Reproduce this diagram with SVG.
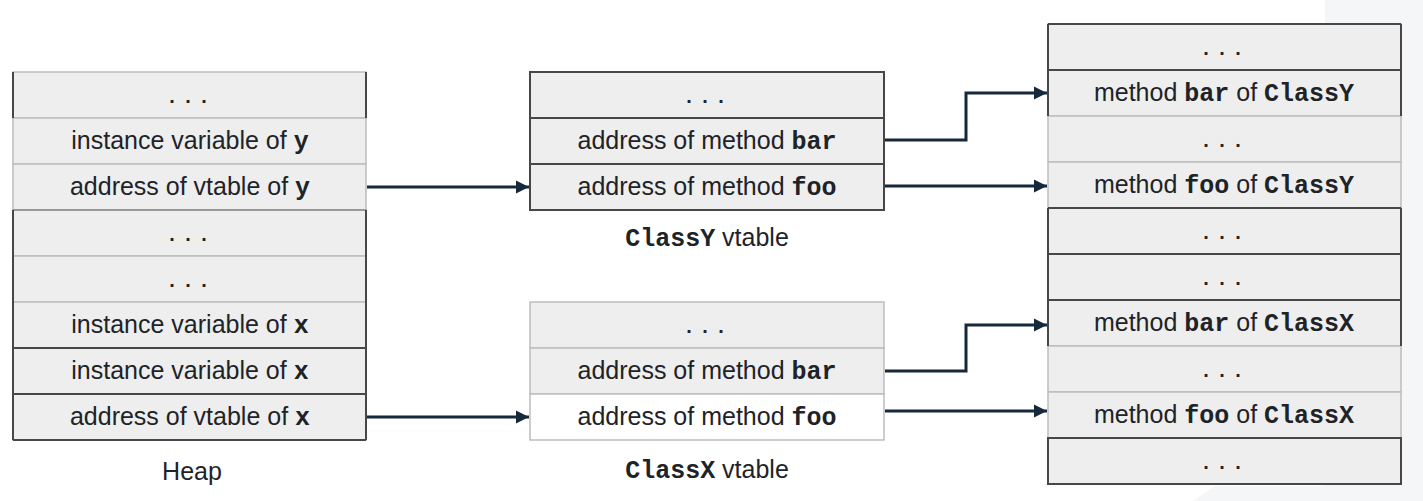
<svg xmlns="http://www.w3.org/2000/svg" width="1423" height="501" viewBox="0 0 1423 501">
<defs>
<style>
.bg{fill:#ffffff}
.panel{fill:#f4f6f7}
.cell{fill:#eeeeee;stroke:#bdbdbd;stroke-width:1.5}
.cellw{fill:#ffffff;stroke:#bdbdbd;stroke-width:1.5}
.dark{fill:none;stroke:#474747;stroke-width:2}
.mid{fill:none;stroke:#8a8a8a;stroke-width:1.5}
.t{font-family:"Liberation Sans",Arial,sans-serif;font-size:25px;fill:#1e2328;text-anchor:middle}
.m{font-family:"Liberation Mono","Courier New",monospace;font-weight:bold;font-size:25px}
.dots{font-family:"Liberation Mono","Courier New",monospace;font-weight:bold;font-size:20px;fill:#1e2328;text-anchor:middle;letter-spacing:4px}
.conn{fill:none;stroke:#16293a;stroke-width:3;marker-end:url(#arr)}
</style>
<marker id="arr" viewBox="0 0 10 10" refX="10" refY="5" markerWidth="4.5" markerHeight="4.5" orient="auto" markerUnits="strokeWidth">
<path d="M0,0 L10,5 L0,10 z" fill="#16293a"/>
</marker>
</defs>
<rect class="bg" x="0" y="0" width="1423" height="501"/>
<rect class="panel" x="1325" y="0" width="98" height="501"/>
<polygon class="panel" points="1193,501 1215,486 1325,486 1325,501"/>

<g id="heap">
<rect class="cell" x="13" y="72" width="353" height="46"/>
<rect class="cell" x="13" y="118" width="353" height="46"/>
<rect class="cell" x="13" y="164" width="353" height="46"/>
<rect class="cell" x="13" y="210" width="353" height="46"/>
<rect class="cell" x="13" y="256" width="353" height="46"/>
<rect class="cell" x="13" y="302" width="353" height="46"/>
<rect class="cell" x="13" y="348" width="353" height="46"/>
<rect class="cell" x="13" y="394" width="353" height="46"/>
<path class="mid" d="M13,210 H366"/>
<path class="dark" d="M13,72 V118 M366,72 V118 M13,210 V440 M366,210 V440 M13,348 H366 M13,394 H366 M13,440 H366"/>
<text class="dots" x="190" y="103">...</text>
<text class="t" x="190" y="149">instance variable of <tspan class="m">y</tspan></text>
<text class="t" x="190" y="195">address of vtable of <tspan class="m">y</tspan></text>
<text class="dots" x="190" y="241">...</text>
<text class="dots" x="190" y="287">...</text>
<text class="t" x="190" y="333">instance variable of <tspan class="m">x</tspan></text>
<text class="t" x="190" y="379">instance variable of <tspan class="m">x</tspan></text>
<text class="t" x="190" y="425">address of vtable of <tspan class="m">x</tspan></text>
<text class="t" x="192" y="480">Heap</text>
</g>

<g id="classY-vtable">
<rect class="cell" x="530" y="72" width="354" height="46"/>
<rect class="cell" x="530" y="118" width="354" height="46"/>
<rect class="cell" x="530" y="164" width="354" height="46"/>
<path class="dark" d="M530,72 H884 V210 H530 Z M530,118 H884 M530,164 H884"/>
<text class="dots" x="707" y="103">...</text>
<text class="t" x="707" y="149">address of method <tspan class="m">bar</tspan></text>
<text class="t" x="707" y="195">address of method <tspan class="m">foo</tspan></text>
<text class="t" x="707" y="246"><tspan class="m">ClassY</tspan> vtable</text>
</g>

<g id="classX-vtable">
<rect class="cell" x="530" y="302" width="354" height="46"/>
<rect class="cell" x="530" y="348" width="354" height="46"/>
<rect class="cellw" x="530" y="394" width="354" height="46"/>
<text class="dots" x="707" y="333">...</text>
<text class="t" x="707" y="379">address of method <tspan class="m">bar</tspan></text>
<text class="t" x="707" y="425">address of method <tspan class="m">foo</tspan></text>
<text class="t" x="707" y="478"><tspan class="m">ClassX</tspan> vtable</text>
</g>

<g id="methods">
<rect class="cell" x="1048" y="24" width="353" height="46"/>
<rect class="cell" x="1048" y="70" width="353" height="46"/>
<rect class="cell" x="1048" y="116" width="353" height="46"/>
<rect class="cell" x="1048" y="162" width="353" height="46"/>
<rect class="cell" x="1048" y="208" width="353" height="46"/>
<rect class="cell" x="1048" y="254" width="353" height="46"/>
<rect class="cell" x="1048" y="300" width="353" height="46"/>
<rect class="cell" x="1048" y="346" width="353" height="46"/>
<rect class="cell" x="1048" y="392" width="353" height="46"/>
<rect class="cell" x="1048" y="438" width="353" height="46"/>
<path class="dark" d="M1048,24 H1401 M1048,70 H1401 M1048,24 V116 M1401,24 V116 M1048,208 H1401 M1048,254 H1401 M1048,300 H1401 M1048,208 V346 M1401,208 V346 M1048,438 H1401 V484 H1048 Z"/>
<text class="dots" x="1224" y="55">...</text>
<text class="t" x="1224" y="101">method <tspan class="m">bar</tspan> of <tspan class="m">ClassY</tspan></text>
<text class="dots" x="1224" y="147">...</text>
<text class="t" x="1224" y="193">method <tspan class="m">foo</tspan> of <tspan class="m">ClassY</tspan></text>
<text class="dots" x="1224" y="239">...</text>
<text class="dots" x="1224" y="285">...</text>
<text class="t" x="1224" y="331">method <tspan class="m">bar</tspan> of <tspan class="m">ClassX</tspan></text>
<text class="dots" x="1224" y="377">...</text>
<text class="t" x="1224" y="423">method <tspan class="m">foo</tspan> of <tspan class="m">ClassX</tspan></text>
<text class="dots" x="1224" y="469">...</text>
</g>

<g id="connectors">
<path class="conn" d="M367,187 H529"/>
<path class="conn" d="M367,417 H529"/>
<path class="conn" d="M885,140 H966 V93 H1047"/>
<path class="conn" d="M885,186 H1047"/>
<path class="conn" d="M885,371 H966 V325 H1047"/>
<path class="conn" d="M885,411 H1047"/>
</g>
</svg>
